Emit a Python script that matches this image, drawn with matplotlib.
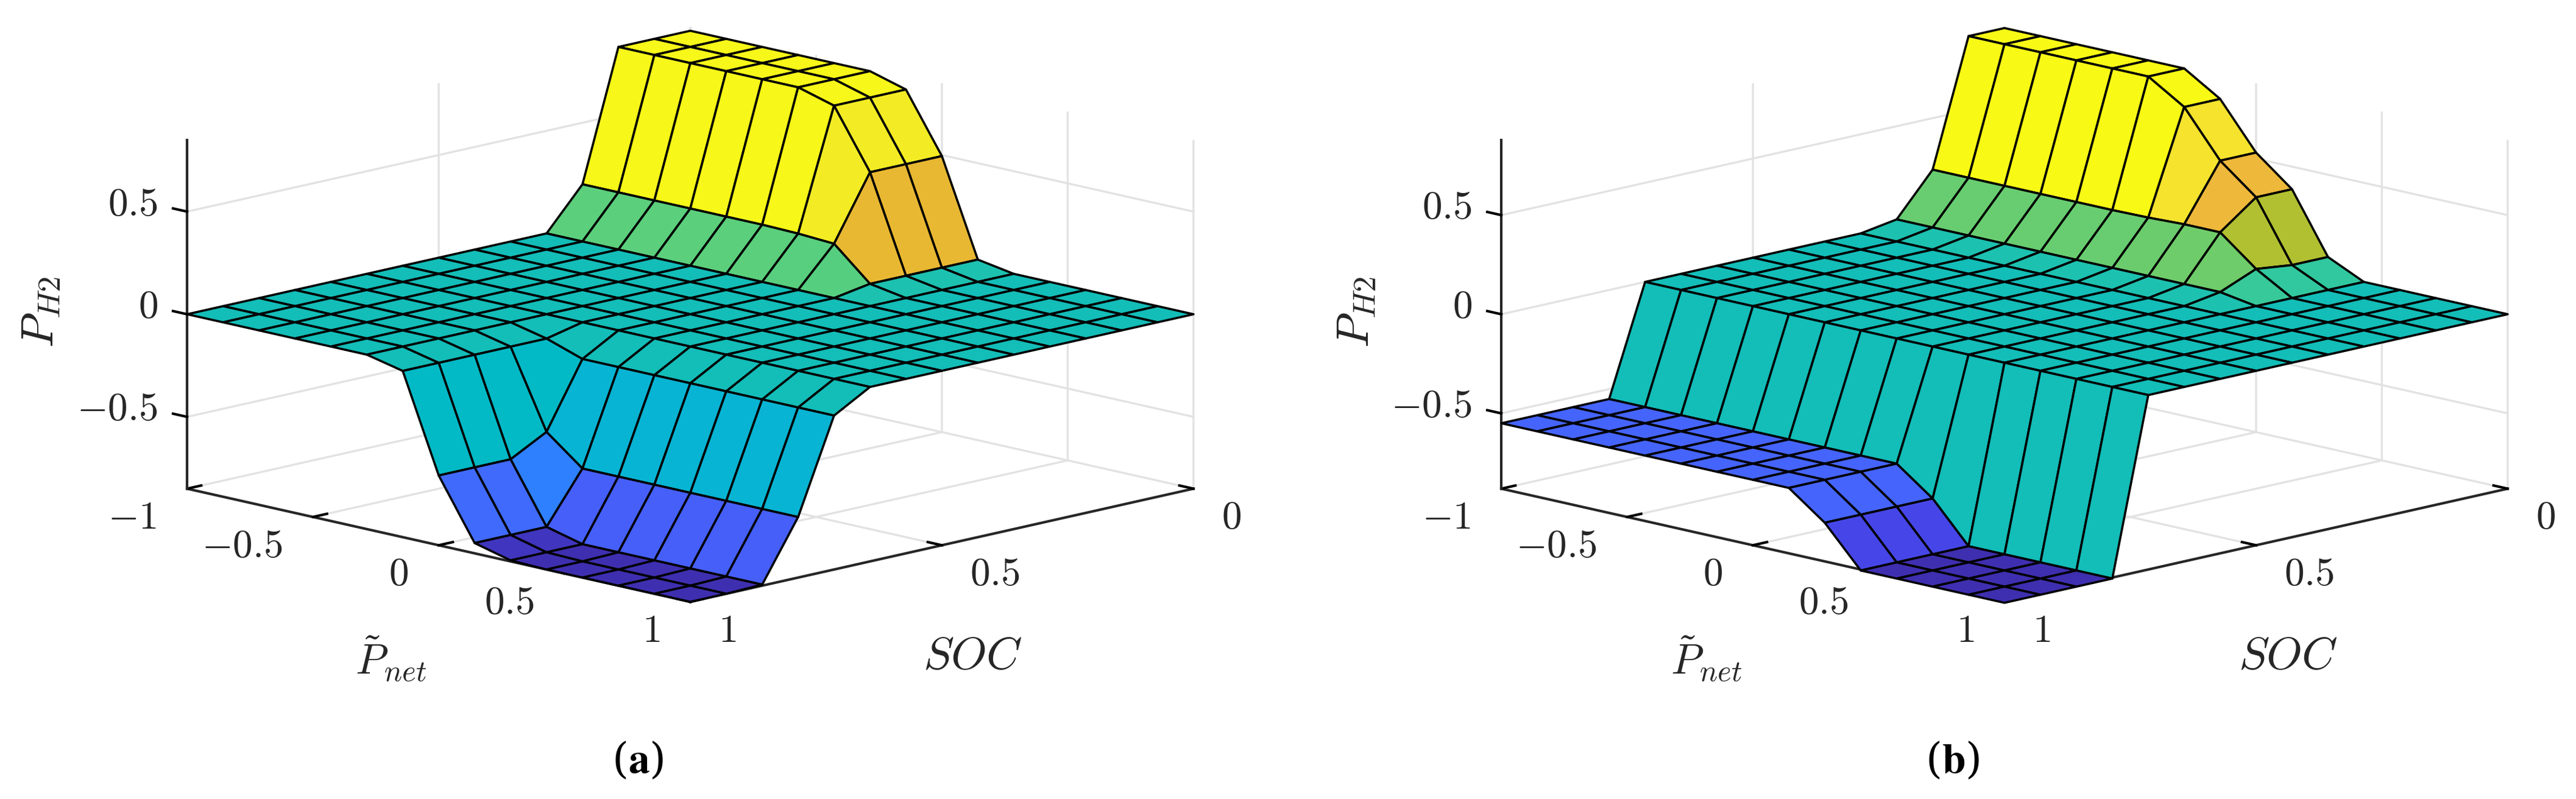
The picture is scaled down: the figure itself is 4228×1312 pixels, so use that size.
import matplotlib
matplotlib.use('Agg')
import matplotlib.pyplot as plt
import numpy as np
from matplotlib.colors import LinearSegmentedColormap
from mpl_toolkits.mplot3d import proj3d

plt.rcParams['mathtext.fontset'] = 'cm'
plt.rcParams['font.family'] = ['DejaVu Serif']

p_net = [-1, -6/7, -5/7, -4/7, -3/7, -2/7, -1/7, 0, 1/7, 2/7, 3/7, 4/7, 5/7, 6/7, 1]
soc = [0, 1/14, 2/14, 3/14, 4/14, 5/14, 6/14, 7/14, 8/14, 9/14, 10/14, 11/14, 12/14, 13/14, 1]

# rows: SOC, columns: P_net
z_a = [
    [.83, .83, .83, .83, .83, .83, .78, .495, .03, 0, 0, 0, 0, 0, 0],
    [.83, .83, .83, .83, .83, .83, .78, .495, .03, 0, 0, 0, 0, 0, 0],
    [.83, .83, .83, .83, .83, .83, .78, .495, .03, 0, 0, 0, 0, 0, 0],
    [.2, .2, .2, .2, .2, .2, .196, .186, .03, 0, 0, 0, 0, 0, 0],
    [0, 0, 0, 0, 0, 0, 0, 0, 0, 0, 0, 0, 0, 0, 0],
    [0, 0, 0, 0, 0, 0, 0, 0, 0, 0, 0, 0, 0, 0, 0],
    [0, 0, 0, 0, 0, 0, 0, 0, 0, 0, 0, 0, 0, 0, 0],
    [0, 0, 0, 0, 0, 0, 0, 0, 0, 0, 0, 0, 0, 0, 0],
    [0, 0, 0, 0, 0, 0, 0, 0, 0, 0, 0, 0, 0, 0, 0],
    [0, 0, 0, 0, 0, 0, 0, 0, 0, 0, 0, 0, 0, 0, 0],
    [0, 0, 0, 0, 0, 0, -.04, -.1, -.1, -.1, -.1, -.1, -.1, -.1, -.1],
    [0, 0, 0, 0, 0, 0, -.04, -.416, -.555, -.555, -.555, -.555, -.555, -.555, -.555],
    [0, 0, 0, 0, 0, 0, -.04, -.51, -.8, -.845, -.845, -.845, -.845, -.845, -.845],
    [0, 0, 0, 0, 0, 0, -.04, -.51, -.8, -.845, -.85, -.85, -.85, -.85, -.85],
    [0, 0, 0, 0, 0, 0, -.04, -.51, -.8, -.845, -.85, -.85, -.85, -.85, -.85],
]
z_b = [
    [.873, .873, .873, .873, .873, .873, .76, .53, .386, .085, 0, 0, 0, 0, 0],
    [.873, .873, .873, .873, .873, .873, .76, .53, .386, .085, 0, 0, 0, 0, 0],
    [.24, .24, .24, .24, .24, .24, .243, .25, .25, .106, 0, 0, 0, 0, 0],
    [.03, .03, .03, .03, .03, .03, .03, .03, .03, .03, 0, 0, 0, 0, 0],
    [0, 0, 0, 0, 0, 0, 0, 0, 0, 0, 0, 0, 0, 0, 0],
    [0, 0, 0, 0, 0, 0, 0, 0, 0, 0, 0, 0, 0, 0, 0],
    [0, 0, 0, 0, 0, 0, 0, 0, 0, 0, 0, 0, 0, 0, 0],
    [0, 0, 0, 0, 0, 0, 0, 0, 0, 0, 0, 0, 0, 0, 0],
    [0, 0, 0, 0, 0, 0, 0, 0, 0, 0, 0, 0, 0, 0, 0],
    [0, 0, 0, 0, 0, 0, 0, 0, 0, 0, 0, 0, 0, 0, 0],
    [0, 0, 0, 0, 0, 0, 0, 0, 0, 0, 0, 0, 0, 0, 0],
    [-.55, -.55, -.55, -.55, -.55, -.55, -.55, -.55, -.55, -.685, -.885, -.885, -.885, -.885, -.885],
    [-.55, -.55, -.55, -.55, -.55, -.55, -.55, -.55, -.55, -.685, -.885, -.885, -.885, -.885, -.885],
    [-.55, -.55, -.55, -.55, -.55, -.55, -.55, -.55, -.55, -.685, -.885, -.885, -.885, -.885, -.885],
    [-.55, -.55, -.55, -.55, -.55, -.55, -.55, -.55, -.55, -.685, -.885, -.885, -.885, -.885, -.885],
]

p_ticks = [-1, -0.5, 0, 0.5, 1]
p_labels = ['$-1$', '$-0.5$', '$0$', '$0.5$', '$1$']
soc_ticks = [0, 0.5, 1]
soc_labels = ['$0$', '$0.5$', '$1$']
z_ticks = [-0.5, 0, 0.5]
z_labels = ['$-0.5$', '$0$', '$0.5$']

cmap = LinearSegmentedColormap.from_list('parula_like', [
    (0, '#3E2FB0'), (.11, '#4646E8'), (.18, '#4662FB'), (.255, '#2E80FF'),
    (.44, '#08B4D3'), (.476, '#02BAC5'), (.5, '#12BDB9'), (.548, '#30C8A0'),
    (.62, '#5BCF7C'), (.72, '#B0C030'), (.79, '#E8B830'), (.80, '#EEB73A'),
    (.93, '#F5E22E'), (.96, '#F3EC24'), (1, '#F9FB15')])

W, H = 4228, 1312
S = 1702
fig = plt.figure(figsize=(W / 100, H / 100), dpi=100)


def label_tick(ax, x, y, z, text, dx, dy, ha):
    px, py, _ = proj3d.proj_transform(x, y, z, ax.get_proj())
    ax.annotate(text, xy=(px, py), xytext=(dx, dy), textcoords='offset pixels', ha=ha, va='center',
                fontsize=47, color='#262626', annotation_clip=False)


def draw(left, z, zlim, caption, cap_x, offset):
    ax = fig.add_axes([left / W, -78 / H, S / W, S / H], projection='3d', proj_type='ortho')
    ax.patch.set_alpha(0)
    X, Y = np.meshgrid(p_net, soc)
    Z = np.array(z)
    colors = cmap((Z + zlim) / (2 * zlim))
    ax.plot_surface(X, Y, Z, facecolors=colors, rstride=1, cstride=1, edgecolor='black',
                    linewidth=2.6, shade=False, antialiased=True)
    ax.set_xlim(-1, 1)
    ax.set_ylim(1, 0)
    ax.set_zlim(-zlim, zlim)
    ax.view_init(elev=13, azim=-45)
    ax.set_box_aspect((1172, 1172, 590))
    ax.set_xticks(p_ticks, [''] * len(p_ticks))
    ax.set_yticks(soc_ticks, [''] * len(soc_ticks))
    ax.set_zticks(z_ticks, [''] * len(z_ticks))
    for a in (ax.xaxis, ax.yaxis, ax.zaxis):
        a.pane.set_visible(False)
        a.line.set_color('#262626')
        a.line.set_linewidth(3)
        a._axinfo['grid']['color'] = '#E2E2E2'
        a._axinfo['grid']['linewidth'] = 2.4
        a._axinfo['tick']['color'] = '#262626'
        a._axinfo['tick']['linewidth'] = {True: 3, False: 2}
        a._axinfo['tick']['inward_factor'] = 0.0
        a._axinfo['tick']['outward_factor'] = 0.35
    ax.zaxis.set_ticks_position('upper')
    for t, s in zip(p_ticks, p_labels):
        label_tick(ax, t, 1, -zlim, s, -50, -48, 'right')
    for t, s in zip(soc_ticks, soc_labels):
        label_tick(ax, 1, t, -zlim, s, 46, -48, 'left')
    for t, s in zip(z_ticks, z_labels):
        label_tick(ax, -1, 1, t, s, -48, 12, 'right')
    fig.text((offset + 67) / W, 1 - 512 / H, '$P_{H2}$', fontsize=54, rotation=90, ha='center', va='center', color='#262626')
    fig.text((offset + 642) / W, 1 - 1082 / H, r'$\tilde{P}_{net}$', fontsize=50, ha='center', va='center', color='#262626')
    fig.text((offset + 1596) / W, 1 - 1078 / H, '$SOC$', fontsize=54, ha='center', va='center', color='#262626')
    fig.text(cap_x / W, 1 - 1249 / H, caption, fontsize=50, ha='center', va='center', color='black', math_fontfamily='stix')


draw(259, z_a, 0.85, r'($\mathbf{a}$)', 1047, 0)
draw(2416, z_b, 0.88, r'($\mathbf{b}$)', 3205, 2159)

fig.savefig('out.png', dpi=100)
